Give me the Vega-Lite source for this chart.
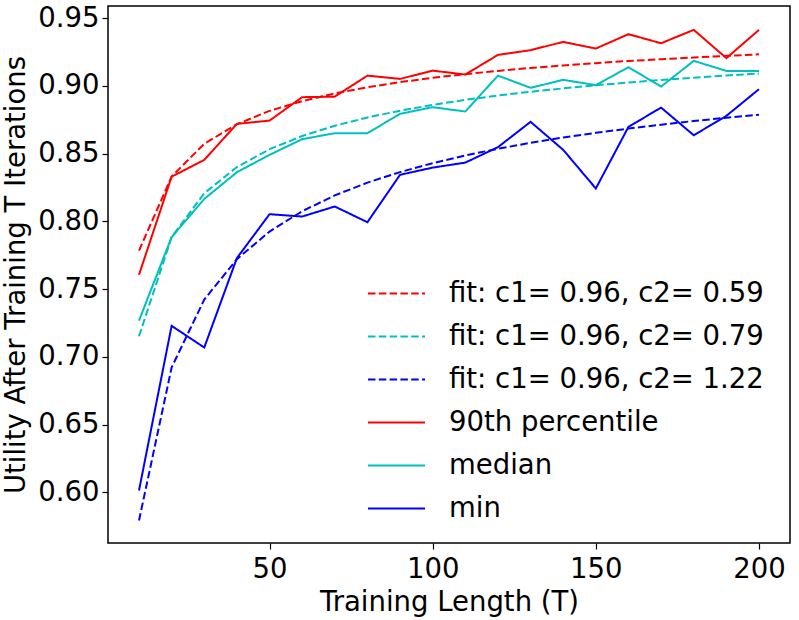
{
  "$schema": "https://vega.github.io/schema/vega-lite/v6.json",
  "width": 682,
  "height": 537,
  "autosize": "none",
  "padding": {"left": 108, "top": 6, "right": 9, "bottom": 77},
  "background": "white",
  "config": {
    "font": "DejaVu Sans",
    "view": {"stroke": "black", "strokeWidth": 1.5},
    "axis": {
      "grid": false, "domain": false, "tickColor": "black", "tickSize": 6, "tickWidth": 1.2,
      "labelFont": "DejaVu Sans", "labelFontSize": 27.5, "labelColor": "black",
      "titleFont": "DejaVu Sans", "titleFontSize": 27.5, "titleFontWeight": "normal", "titleColor": "black"
    }
  },
  "data": {
    "values": [
      {"T": 10, "v": 0.7784, "s": "fit: c1= 0.96, c2= 0.59"},
      {"T": 20, "v": 0.8331, "s": "fit: c1= 0.96, c2= 0.59"},
      {"T": 30, "v": 0.8573, "s": "fit: c1= 0.96, c2= 0.59"},
      {"T": 40, "v": 0.8717, "s": "fit: c1= 0.96, c2= 0.59"},
      {"T": 50, "v": 0.8816, "s": "fit: c1= 0.96, c2= 0.59"},
      {"T": 60, "v": 0.8888, "s": "fit: c1= 0.96, c2= 0.59"},
      {"T": 70, "v": 0.8945, "s": "fit: c1= 0.96, c2= 0.59"},
      {"T": 80, "v": 0.8990, "s": "fit: c1= 0.96, c2= 0.59"},
      {"T": 90, "v": 0.9028, "s": "fit: c1= 0.96, c2= 0.59"},
      {"T": 100, "v": 0.9060, "s": "fit: c1= 0.96, c2= 0.59"},
      {"T": 110, "v": 0.9087, "s": "fit: c1= 0.96, c2= 0.59"},
      {"T": 120, "v": 0.9111, "s": "fit: c1= 0.96, c2= 0.59"},
      {"T": 130, "v": 0.9133, "s": "fit: c1= 0.96, c2= 0.59"},
      {"T": 140, "v": 0.9151, "s": "fit: c1= 0.96, c2= 0.59"},
      {"T": 150, "v": 0.9168, "s": "fit: c1= 0.96, c2= 0.59"},
      {"T": 160, "v": 0.9184, "s": "fit: c1= 0.96, c2= 0.59"},
      {"T": 170, "v": 0.9197, "s": "fit: c1= 0.96, c2= 0.59"},
      {"T": 180, "v": 0.9210, "s": "fit: c1= 0.96, c2= 0.59"},
      {"T": 190, "v": 0.9222, "s": "fit: c1= 0.96, c2= 0.59"},
      {"T": 200, "v": 0.9233, "s": "fit: c1= 0.96, c2= 0.59"},
      {"T": 10, "v": 0.7152, "s": "fit: c1= 0.96, c2= 0.79"},
      {"T": 20, "v": 0.7884, "s": "fit: c1= 0.96, c2= 0.79"},
      {"T": 30, "v": 0.8208, "s": "fit: c1= 0.96, c2= 0.79"},
      {"T": 40, "v": 0.8401, "s": "fit: c1= 0.96, c2= 0.79"},
      {"T": 50, "v": 0.8533, "s": "fit: c1= 0.96, c2= 0.79"},
      {"T": 60, "v": 0.8630, "s": "fit: c1= 0.96, c2= 0.79"},
      {"T": 70, "v": 0.8706, "s": "fit: c1= 0.96, c2= 0.79"},
      {"T": 80, "v": 0.8767, "s": "fit: c1= 0.96, c2= 0.79"},
      {"T": 90, "v": 0.8817, "s": "fit: c1= 0.96, c2= 0.79"},
      {"T": 100, "v": 0.8860, "s": "fit: c1= 0.96, c2= 0.79"},
      {"T": 110, "v": 0.8897, "s": "fit: c1= 0.96, c2= 0.79"},
      {"T": 120, "v": 0.8929, "s": "fit: c1= 0.96, c2= 0.79"},
      {"T": 130, "v": 0.8957, "s": "fit: c1= 0.96, c2= 0.79"},
      {"T": 140, "v": 0.8982, "s": "fit: c1= 0.96, c2= 0.79"},
      {"T": 150, "v": 0.9005, "s": "fit: c1= 0.96, c2= 0.79"},
      {"T": 160, "v": 0.9025, "s": "fit: c1= 0.96, c2= 0.79"},
      {"T": 170, "v": 0.9044, "s": "fit: c1= 0.96, c2= 0.79"},
      {"T": 180, "v": 0.9061, "s": "fit: c1= 0.96, c2= 0.79"},
      {"T": 190, "v": 0.9077, "s": "fit: c1= 0.96, c2= 0.79"},
      {"T": 200, "v": 0.9091, "s": "fit: c1= 0.96, c2= 0.79"},
      {"T": 10, "v": 0.5792, "s": "fit: c1= 0.96, c2= 1.22"},
      {"T": 20, "v": 0.6922, "s": "fit: c1= 0.96, c2= 1.22"},
      {"T": 30, "v": 0.7423, "s": "fit: c1= 0.96, c2= 1.22"},
      {"T": 40, "v": 0.7721, "s": "fit: c1= 0.96, c2= 1.22"},
      {"T": 50, "v": 0.7925, "s": "fit: c1= 0.96, c2= 1.22"},
      {"T": 60, "v": 0.8075, "s": "fit: c1= 0.96, c2= 1.22"},
      {"T": 70, "v": 0.8192, "s": "fit: c1= 0.96, c2= 1.22"},
      {"T": 80, "v": 0.8286, "s": "fit: c1= 0.96, c2= 1.22"},
      {"T": 90, "v": 0.8364, "s": "fit: c1= 0.96, c2= 1.22"},
      {"T": 100, "v": 0.8430, "s": "fit: c1= 0.96, c2= 1.22"},
      {"T": 110, "v": 0.8487, "s": "fit: c1= 0.96, c2= 1.22"},
      {"T": 120, "v": 0.8536, "s": "fit: c1= 0.96, c2= 1.22"},
      {"T": 130, "v": 0.8580, "s": "fit: c1= 0.96, c2= 1.22"},
      {"T": 140, "v": 0.8619, "s": "fit: c1= 0.96, c2= 1.22"},
      {"T": 150, "v": 0.8654, "s": "fit: c1= 0.96, c2= 1.22"},
      {"T": 160, "v": 0.8685, "s": "fit: c1= 0.96, c2= 1.22"},
      {"T": 170, "v": 0.8714, "s": "fit: c1= 0.96, c2= 1.22"},
      {"T": 180, "v": 0.8741, "s": "fit: c1= 0.96, c2= 1.22"},
      {"T": 190, "v": 0.8765, "s": "fit: c1= 0.96, c2= 1.22"},
      {"T": 200, "v": 0.8787, "s": "fit: c1= 0.96, c2= 1.22"},
      {"T": 10, "v": 0.7606, "s": "90th percentile"},
      {"T": 20, "v": 0.8330, "s": "90th percentile"},
      {"T": 30, "v": 0.8454, "s": "90th percentile"},
      {"T": 40, "v": 0.8720, "s": "90th percentile"},
      {"T": 50, "v": 0.8744, "s": "90th percentile"},
      {"T": 60, "v": 0.8917, "s": "90th percentile"},
      {"T": 70, "v": 0.8921, "s": "90th percentile"},
      {"T": 80, "v": 0.9076, "s": "90th percentile"},
      {"T": 90, "v": 0.9052, "s": "90th percentile"},
      {"T": 100, "v": 0.9113, "s": "90th percentile"},
      {"T": 110, "v": 0.9084, "s": "90th percentile"},
      {"T": 120, "v": 0.9229, "s": "90th percentile"},
      {"T": 130, "v": 0.9264, "s": "90th percentile"},
      {"T": 140, "v": 0.9325, "s": "90th percentile"},
      {"T": 150, "v": 0.9276, "s": "90th percentile"},
      {"T": 160, "v": 0.9382, "s": "90th percentile"},
      {"T": 170, "v": 0.9315, "s": "90th percentile"},
      {"T": 180, "v": 0.9414, "s": "90th percentile"},
      {"T": 190, "v": 0.9205, "s": "90th percentile"},
      {"T": 200, "v": 0.9414, "s": "90th percentile"},
      {"T": 10, "v": 0.7268, "s": "median"},
      {"T": 20, "v": 0.7884, "s": "median"},
      {"T": 30, "v": 0.8166, "s": "median"},
      {"T": 40, "v": 0.8363, "s": "median"},
      {"T": 50, "v": 0.8491, "s": "median"},
      {"T": 60, "v": 0.8607, "s": "median"},
      {"T": 70, "v": 0.8651, "s": "median"},
      {"T": 80, "v": 0.8651, "s": "median"},
      {"T": 90, "v": 0.8794, "s": "median"},
      {"T": 100, "v": 0.8843, "s": "median"},
      {"T": 110, "v": 0.8811, "s": "median"},
      {"T": 120, "v": 0.9076, "s": "median"},
      {"T": 130, "v": 0.8986, "s": "median"},
      {"T": 140, "v": 0.9045, "s": "median"},
      {"T": 150, "v": 0.9006, "s": "median"},
      {"T": 160, "v": 0.9138, "s": "median"},
      {"T": 170, "v": 0.8995, "s": "median"},
      {"T": 180, "v": 0.9185, "s": "median"},
      {"T": 190, "v": 0.9111, "s": "median"},
      {"T": 200, "v": 0.9111, "s": "median"},
      {"T": 10, "v": 0.6014, "s": "min"},
      {"T": 20, "v": 0.7229, "s": "min"},
      {"T": 30, "v": 0.7069, "s": "min"},
      {"T": 40, "v": 0.7729, "s": "min"},
      {"T": 50, "v": 0.8053, "s": "min"},
      {"T": 60, "v": 0.8036, "s": "min"},
      {"T": 70, "v": 0.8110, "s": "min"},
      {"T": 80, "v": 0.7994, "s": "min"},
      {"T": 90, "v": 0.8344, "s": "min"},
      {"T": 100, "v": 0.8397, "s": "min"},
      {"T": 110, "v": 0.8434, "s": "min"},
      {"T": 120, "v": 0.8548, "s": "min"},
      {"T": 130, "v": 0.8735, "s": "min"},
      {"T": 140, "v": 0.8528, "s": "min"},
      {"T": 150, "v": 0.8243, "s": "min"},
      {"T": 160, "v": 0.8698, "s": "min"},
      {"T": 170, "v": 0.8840, "s": "min"},
      {"T": 180, "v": 0.8636, "s": "min"},
      {"T": 190, "v": 0.8779, "s": "min"},
      {"T": 200, "v": 0.8976, "s": "min"}
    ]
  },
  "mark": {"type": "line", "strokeWidth": 2, "clip": true},
  "encoding": {
    "x": {
      "field": "T", "type": "quantitative",
      "scale": {"domain": [0.5, 209.5], "nice": false, "zero": false},
      "axis": {"values": [50, 100, 150, 200], "title": "Training Length (T)", "labelPadding": 6, "titlePadding": 6}
    },
    "y": {
      "field": "v", "type": "quantitative",
      "scale": {"domain": [0.5626, 0.959], "nice": false, "zero": false},
      "axis": {"values": [0.6, 0.65, 0.7, 0.75, 0.8, 0.85, 0.9, 0.95], "format": ".2f", "title": "Utility After Training T Iterations", "labelPadding": 3, "titlePadding": 7}
    },
    "color": {
      "field": "s", "type": "nominal",
      "scale": {
        "domain": ["fit: c1= 0.96, c2= 0.59", "fit: c1= 0.96, c2= 0.79", "fit: c1= 0.96, c2= 1.22", "90th percentile", "median", "min"],
        "range": ["#ff0000", "#00bfbf", "#0000ff", "#ff0000", "#00bfbf", "#0000ff"]
      },
      "legend": {
        "title": null, "orient": "none", "legendX": 259, "legendY": 258, "padding": 0,
        "symbolType": "stroke", "symbolSize": 3249, "symbolStrokeWidth": 2,
        "labelFont": "DejaVu Sans", "labelFontSize": 27.5, "labelColor": "black", "labelOffset": 23,
        "rowPadding": -1, "labelLimit": 500
      }
    },
    "strokeDash": {
      "field": "s", "type": "nominal",
      "scale": {
        "domain": ["fit: c1= 0.96, c2= 0.59", "fit: c1= 0.96, c2= 0.79", "fit: c1= 0.96, c2= 1.22", "90th percentile", "median", "min"],
        "range": [[7.5, 3.3], [7.5, 3.3], [7.5, 3.3], [1, 0], [1, 0], [1, 0]]
      },
      "legend": {
        "title": null, "orient": "none", "legendX": 259, "legendY": 258, "padding": 0,
        "symbolType": "stroke", "symbolSize": 3249, "symbolStrokeWidth": 2,
        "labelFont": "DejaVu Sans", "labelFontSize": 27.5, "labelColor": "black", "labelOffset": 23,
        "rowPadding": -1, "labelLimit": 500
      }
    }
  }
}
